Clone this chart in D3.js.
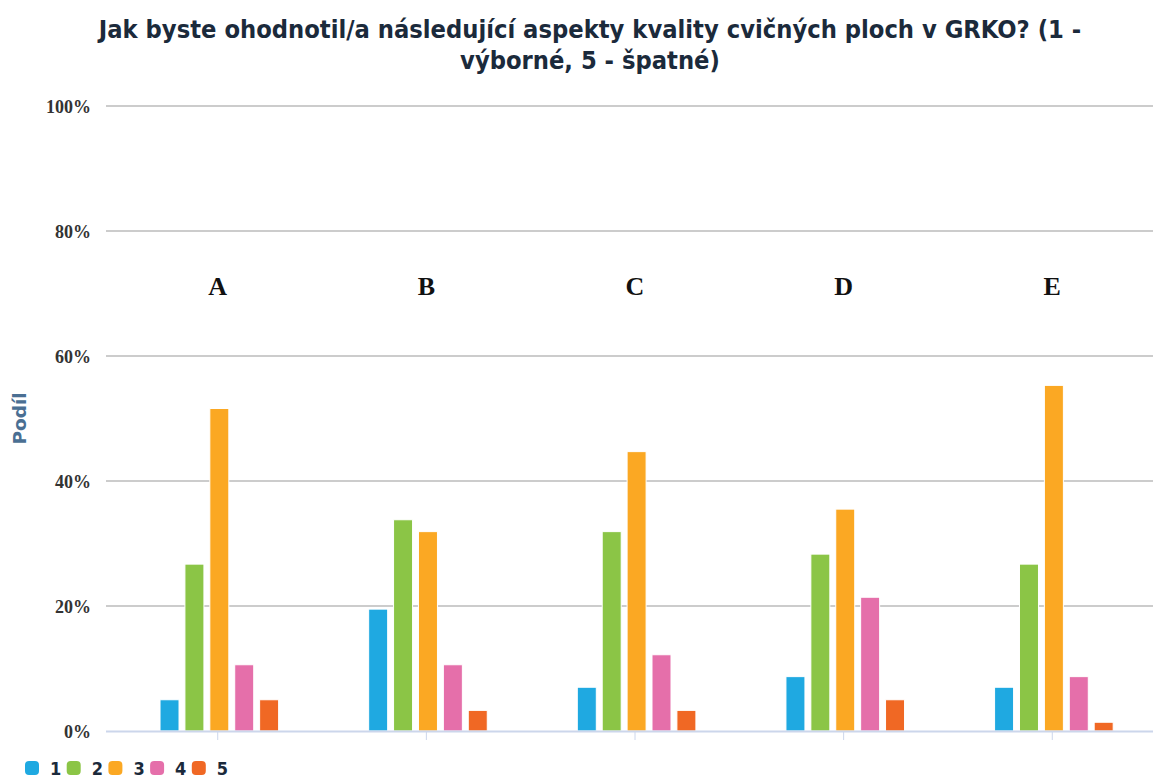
<!DOCTYPE html>
<html>
<head>
<meta charset="utf-8">
<script src="https://cdn.jsdelivr.net/npm/d3@7/dist/d3.min.js"></script>
<style>
  html, body { margin: 0; padding: 0; background: #ffffff; }
  svg { display: block; }
  .cond { font-family: "DejaVu Sans Condensed", "DejaVu Sans", sans-serif; font-stretch: condensed; }
</style>
</head>
<body>
<svg id="chart" width="1153" height="778"></svg>
<script>
// Survey question and answer scale
const titleLines = [
  "Jak byste ohodnotil/a následující aspekty kvality cvičných ploch v GRKO? (1 -",
  "výborné, 5 - špatné)"
];
const categories = ["A", "B", "C", "D", "E"];
const seriesNames = ["1", "2", "3", "4", "5"];
const seriesColors = ["#1fa9e1", "#8bc546", "#fba823", "#e56faa", "#f06824"];

// Share of answers (%) for each rating, per aspect A–E
const rating1 = [5.0, 19.5, 7.0, 8.7, 7.0];
const rating2 = [26.7, 33.8, 31.9, 28.3, 26.7];
const rating3 = [51.6, 31.9, 44.7, 35.5, 55.3];
const rating4 = [10.6, 10.6, 12.2, 21.4, 8.7];
const rating5 = [5.0, 3.3, 3.3, 5.0, 1.4];
const seriesValues = [rating1, rating2, rating3, rating4, rating5];

const yTicks = [0, 20, 40, 60, 80, 100];
const yTitle = "Podíl";

const svg = d3.select("#chart");

// Plot geometry
const plotLeft = 106, plotRight = 1153;
const plotTop = 106, plotBottom = 731;
const groupWidth = 118.6;

const x = d3.scaleBand()
  .domain(categories)
  .range([113.4, 1156.6]);

const xInner = d3.scaleBand()
  .domain(seriesNames)
  .range([0, groupWidth])
  .paddingInner(0.237)
  .paddingOuter(0);

const y = d3.scaleLinear()
  .domain([0, 100])
  .range([plotBottom, plotTop]);

// Horizontal gridlines
svg.append("g")
  .selectAll("line")
  .data(yTicks.filter(t => t > 0))
  .join("line")
  .attr("x1", plotLeft)
  .attr("x2", plotRight)
  .attr("y1", d => y(d))
  .attr("y2", d => y(d))
  .attr("stroke", "#cccccc")
  .attr("stroke-width", 2);

// Y axis labels
const yAxis = d3.axisLeft(y)
  .tickValues(yTicks)
  .tickFormat(d => d + "%")
  .tickSize(0)
  .tickPadding(0);

const yAxisG = svg.append("g")
  .attr("transform", `translate(91,0)`)
  .call(yAxis);
yAxisG.select(".domain").remove();
yAxisG.selectAll("text")
  .attr("font-family", "'Liberation Serif', 'DejaVu Serif', serif")
  .attr("font-weight", "bold")
  .attr("font-size", 18)
  .attr("fill", "#333333")
  .attr("dy", "0.36em");

// Y axis title
svg.append("text")
  .attr("transform", `translate(26,${(plotTop + plotBottom) / 2}) rotate(-90)`)
  .attr("text-anchor", "middle")
  .attr("font-family", "'DejaVu Sans', sans-serif")
  .attr("font-weight", "bold")
  .attr("font-size", 18.5)
  .attr("fill", "#4a6f93")
  .text(yTitle);

// Bars
const groups = svg.append("g")
  .selectAll("g")
  .data(categories)
  .join("g")
  .attr("transform", d => `translate(${x(d) + x.bandwidth() / 2 - groupWidth / 2 + 1.6},0)`);

groups.selectAll("rect")
  .data((c, i) => seriesNames.map((s, j) => ({ s, v: seriesValues[j][i], color: seriesColors[j] })))
  .join("rect")
  .attr("x", d => xInner(d.s))
  .attr("width", xInner.bandwidth())
  .attr("y", d => y(d.v))
  .attr("height", d => y(0) - y(d.v))
  .attr("fill", d => d.color)
  .attr("stroke", "#ffffff")
  .attr("stroke-width", 1);

// X axis line and ticks
const xAxis = d3.axisBottom(x).tickSize(9).tickFormat("");
const xAxisG = svg.append("g")
  .attr("transform", `translate(0,${plotBottom})`)
  .call(xAxis);
xAxisG.select(".domain").remove();
xAxisG.selectAll(".tick line").attr("stroke", "#ccd6eb");
svg.append("line")
  .attr("x1", plotLeft)
  .attr("x2", plotRight)
  .attr("y1", plotBottom + 0.5)
  .attr("y2", plotBottom + 0.5)
  .attr("stroke", "#ccd6eb")
  .attr("stroke-width", 2);

// Category labels above the bars
svg.append("g")
  .selectAll("text")
  .data(categories)
  .join("text")
  .attr("x", d => x(d) + x.bandwidth() / 2)
  .attr("y", 295)
  .attr("text-anchor", "middle")
  .attr("font-family", "'Liberation Serif', 'Times New Roman', serif")
  .attr("font-weight", "bold")
  .attr("font-size", 26)
  .attr("fill", "#111111")
  .text(d => d);

// Title, sized so the first line spans the chart heading width
const titleG = svg.append("g");
const titleText = titleG.selectAll("text")
  .data(titleLines)
  .join("text")
  .attr("class", "cond")
  .attr("x", 590)
  .attr("y", (d, i) => 38 + i * 31)
  .attr("text-anchor", "middle")
  .attr("font-weight", "bold")
  .attr("font-size", 24)
  .attr("fill", "#1b2a3b")
  .text(d => d);
const firstWidth = titleText.node().getComputedTextLength();
titleText.attr("font-size", 24 * 983 / firstWidth);

// Legend
const legend = svg.append("g")
  .selectAll("g")
  .data(seriesNames)
  .join("g")
  .attr("transform", (d, i) => `translate(${25 + i * 41.7},761)`);
legend.append("rect")
  .attr("width", 14)
  .attr("height", 14)
  .attr("rx", 4)
  .attr("fill", (d, i) => seriesColors[i]);
legend.append("text")
  .attr("class", "cond")
  .attr("x", 25)
  .attr("y", 14)
  .attr("font-weight", "bold")
  .attr("font-size", 18)
  .attr("fill", "#1b2a3b")
  .text(d => d);
</script>
</body>
</html>
